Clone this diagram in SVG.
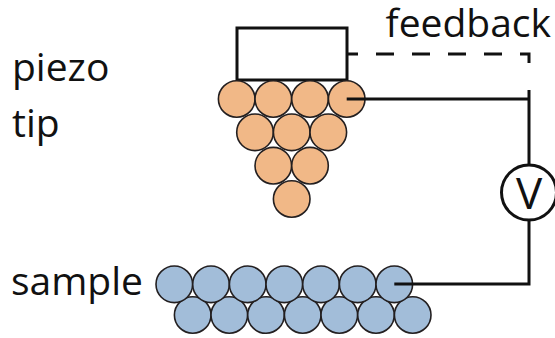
<svg xmlns="http://www.w3.org/2000/svg" width="555" height="338" viewBox="0 0 555 338">
  <style>
    .label { font-family: "Open Sans", "Noto Sans", sans-serif; font-size: 39px; fill: #111; }
    .wire { fill: none; stroke: #111; stroke-width: 3; }
    .tip circle { fill: #F1B887; stroke: #231F20; stroke-width: 1.6; }
    .sample circle { fill: #A2BDD9; stroke: #231F20; stroke-width: 1.6; }
  </style>

  <!-- labels -->
  <text class="label" x="12" y="81">piezo</text>
  <text class="label" x="12" y="137">tip</text>
  <text class="label" x="11" y="295">sample</text>
  <text class="label" x="551" y="37" text-anchor="end">feedback</text>

  <!-- piezo actuator block -->
  <g id="piezo">
    <rect x="237" y="28" width="110" height="52" fill="#fff" stroke="#111" stroke-width="3"/>
  </g>

  <!-- tip: inverted pyramid of atoms -->
  <g id="tip" class="tip">
    <circle cx="236.7" cy="99" r="18.3"/>
    <circle cx="273.3" cy="99" r="18.3"/>
    <circle cx="310" cy="99" r="18.3"/>
    <circle cx="346.7" cy="99" r="18.3"/>
    <circle cx="255" cy="132.3" r="18.3"/>
    <circle cx="291.7" cy="132.3" r="18.3"/>
    <circle cx="328.3" cy="132.3" r="18.3"/>
    <circle cx="273.3" cy="165.7" r="18.3"/>
    <circle cx="310" cy="165.7" r="18.3"/>
    <circle cx="291.7" cy="199" r="18.3"/>
  </g>

  <!-- sample: two staggered rows of atoms -->
  <g id="sample" class="sample">
    <circle cx="192.7" cy="315" r="18.3"/>
    <circle cx="229.3" cy="315" r="18.3"/>
    <circle cx="266" cy="315" r="18.3"/>
    <circle cx="302.7" cy="315" r="18.3"/>
    <circle cx="339.3" cy="315" r="18.3"/>
    <circle cx="376" cy="315" r="18.3"/>
    <circle cx="412.7" cy="315" r="18.3"/>
    <circle cx="174.3" cy="284.3" r="18.3"/>
    <circle cx="211" cy="284.3" r="18.3"/>
    <circle cx="247.7" cy="284.3" r="18.3"/>
    <circle cx="284.3" cy="284.3" r="18.3"/>
    <circle cx="321" cy="284.3" r="18.3"/>
    <circle cx="357.7" cy="284.3" r="18.3"/>
    <circle cx="394.3" cy="284.3" r="18.3"/>
  </g>

  <!-- voltmeter -->
  <g id="voltmeter">
    <circle cx="529" cy="192.5" r="27.5" fill="#fff" stroke="#111" stroke-width="3"/>
    <text x="529" y="209" text-anchor="middle" font-family="Open Sans, sans-serif" font-size="44" fill="#111">V</text>
  </g>

  <!-- connectors -->
  <g id="connectors">
    <path class="wire" d="M529,63 V54 H347" stroke-dasharray="18 18"/>
    <path class="wire" d="M346.7,99 H529 M529,90 V165"/>
    <path class="wire" d="M529,220 V284 H394.3"/>
  </g>
</svg>
